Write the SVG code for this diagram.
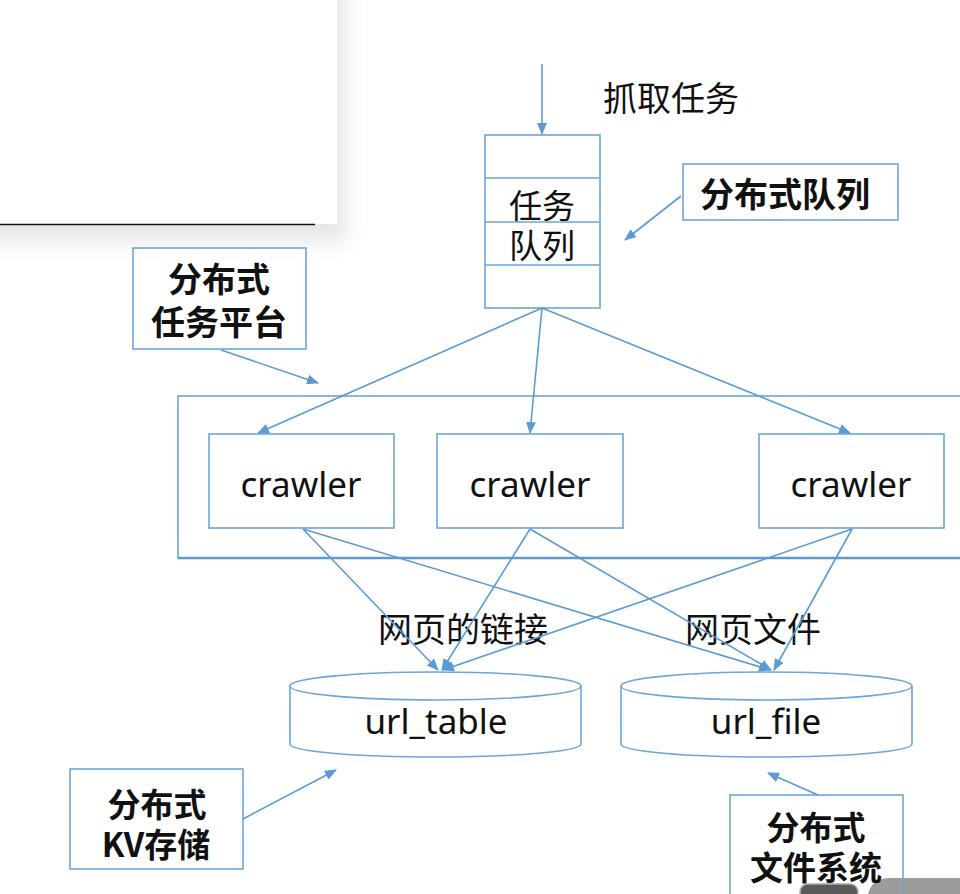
<svg xmlns="http://www.w3.org/2000/svg" width="960" height="894" viewBox="0 0 960 894">
<defs>
<filter id="sh" x="-20%" y="-20%" width="140%" height="140%"><feGaussianBlur stdDeviation="10"/></filter>
<marker id="ah" viewBox="0 0 12 10" refX="11" refY="5" markerWidth="12" markerHeight="10" markerUnits="userSpaceOnUse" orient="auto"><path d="M0,0 L12,5 L0,10 Z" fill="#5b9bd5"/></marker>
</defs>
<style>
.b{fill:none;stroke:#6fa5d7;stroke-width:1.6}
.c{fill:none;stroke:#5b9bd5;stroke-width:1.6;marker-end:url(#ah)}
.cn{font-family:"Noto Sans CJK SC","Noto Sans",sans-serif;font-size:33px;fill:#111;text-anchor:middle;dominant-baseline:central}
.bd{font-weight:bold}
.lg{font-size:34px}
.la{font-family:"Noto Sans","Open Sans",sans-serif;font-size:35px;fill:#111;text-anchor:middle}
</style>
<rect width="960" height="894" fill="#fff"/>
<g id="panel">
<rect x="-20" y="-20" width="366" height="262" fill="#d6d6d6" opacity="0.6" filter="url(#sh)"/>
<rect x="0" y="0" width="337" height="224" fill="#fff"/>
<line x1="0" y1="224.5" x2="315" y2="224.5" stroke="#111" stroke-width="1.6"/>
</g>
<g id="corner">
<path d="M868,894 Q872,878 890,878 L960,878 L960,894 Z" fill="#9c9c9c"/>
<rect x="800" y="884" width="58" height="16" rx="8" fill="#5a5a5a" stroke="#aaa" stroke-width="1.5"/>
</g>
<g id="queue">
<rect class="b" x="485" y="135" width="115" height="173" fill="#fff"/>
<line class="b" x1="485" y1="178" x2="600" y2="178"/>
<line class="b" x1="485" y1="222" x2="600" y2="222"/>
<line class="b" x1="485" y1="265" x2="600" y2="265"/>
<text class="cn"><tspan x="542" y="204">任务</tspan><tspan x="542" y="244">队列</tspan></text>
</g>
<g id="fetch-label"><text class="cn lg" x="671" y="96">抓取任务</text></g>
<g id="dq-note">
<rect class="b" x="683" y="164" width="215" height="56"/>
<text class="cn bd lg" x="785" y="192">分布式队列</text>
</g>
<g id="tp-note">
<rect class="b" x="133" y="248" width="173" height="101"/>
<text class="cn bd lg"><tspan x="219" y="277">分布式</tspan><tspan x="219" y="320">任务平台</tspan></text>
</g>
<g id="platform">
<rect x="178" y="396" width="800" height="162" fill="none" stroke="#6fa5d7" stroke-width="1.6"/>
<line x1="178" y1="558" x2="960" y2="558" stroke="#5b9bd5" stroke-width="2.6"/>
</g>
<g id="crawler1"><rect class="b" x="209" y="434" width="185" height="94"/><text class="la" x="301" y="497">crawler</text></g>
<g id="crawler2"><rect class="b" x="437" y="434" width="186" height="94"/><text class="la" x="530" y="497">crawler</text></g>
<g id="crawler3"><rect class="b" x="759" y="434" width="185" height="94"/><text class="la" x="851" y="497">crawler</text></g>
<g id="url_table">
<path class="b" d="M290,686 L290,744 A145.5,13 0 0 0 581,744 L581,686"/>
<ellipse class="b" cx="435.5" cy="686" rx="145.5" ry="14"/>
<text class="la" x="436" y="734">url_table</text>
</g>
<g id="url_file">
<path class="b" d="M621,686 L621,744 A145.5,13 0 0 0 912,744 L912,686"/>
<ellipse class="b" cx="766.5" cy="686" rx="145.5" ry="14"/>
<text class="la" x="766" y="734">url_file</text>
</g>
<g id="labels">
<text class="cn lg" x="463" y="627">网页的链接</text>
<text class="cn lg" x="753" y="627">网页文件</text>
</g>
<g id="kv-note">
<rect class="b" x="70" y="769" width="173" height="100"/>
<text class="cn bd"><tspan x="157" y="803">分布式</tspan><tspan x="156" y="843">KV存储</tspan></text>
</g>
<g id="fs-note">
<rect class="b" x="730" y="795" width="173" height="120"/>
<text class="cn bd"><tspan x="816" y="826">分布式</tspan><tspan x="816" y="866">文件系统</tspan></text>
</g>
<g id="connectors">
<line class="c" x1="542" y1="64" x2="542" y2="134"/>
<line class="c" x1="542" y1="308" x2="258" y2="433"/>
<line class="c" x1="542" y1="308" x2="530" y2="433"/>
<line class="c" x1="542" y1="308" x2="850" y2="433"/>
<line class="c" x1="303" y1="529" x2="438" y2="670"/>
<line class="c" x1="303" y1="529" x2="770" y2="670"/>
<line class="c" x1="530" y1="529" x2="442" y2="670"/>
<line class="c" x1="530" y1="529" x2="771" y2="670"/>
<line class="c" x1="852" y1="529" x2="443" y2="670"/>
<line class="c" x1="852" y1="529" x2="774" y2="670"/>
<line class="c" x1="681" y1="196" x2="625" y2="240"/>
<line class="c" x1="221" y1="350" x2="318" y2="383"/>
<line class="c" x1="243" y1="819" x2="336" y2="770"/>
<line class="c" x1="818" y1="795" x2="768" y2="773"/>
</g>
</svg>
